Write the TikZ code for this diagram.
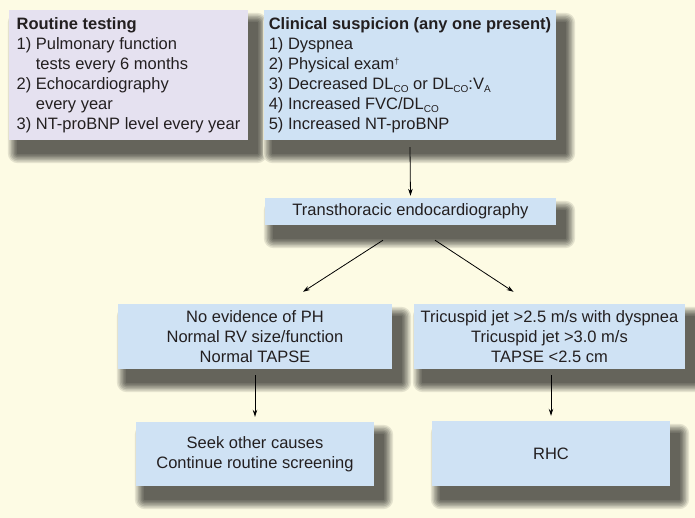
\documentclass[tikz,border=0pt]{standalone}
\usepackage{fontspec}
\setmainfont{Liberation Sans}
\usetikzlibrary{arrows.meta}
\definecolor{creambg}{RGB}{253,251,228}
\definecolor{boxblue}{RGB}{207,226,244}
\definecolor{boxlav}{RGB}{229,225,240}
\definecolor{txt}{RGB}{35,31,32}
\pagecolor{creambg}
\pgfdeclarelayer{bgl}
\pgfdeclarelayer{shl}
\pgfsetlayers{bgl,shl,main}
\newcommand\mysub[1]{\raisebox{-3.5pt}{\fontsize{10}{10}\selectfont #1}}
\newcommand\mydag{\raisebox{5pt}{\fontsize{9}{9}\selectfont\textdagger}}
\tikzset{
  box/.style={fill=boxblue, draw=none, inner sep=0pt, text=txt,
    font=\fontsize{16.5}{20}\selectfont},
  arr/.style={-{Stealth[length=7pt,width=4.5pt]}, line width=0.8pt, black},
}
\begin{document}
\begin{tikzpicture}[x=1pt,y=-1pt]
\useasboundingbox (0,0) rectangle (695,518);
\begin{pgfonlayer}{bgl}
\fill[creambg] (0,0) rectangle (695,518);
\end{pgfonlayer}

\node[box, fill=boxlav, align=left, minimum width=239pt, minimum height=130pt] (routine) at (128.5,75)
  {\textbf{Routine testing}\\
   1) Pulmonary function\\
   \hphantom{1) }tests every 6 months\\
   2) Echocardiography\\
   \hphantom{2) }every year\\
   3) NT-proBNP level every year};

\node[box, align=left, minimum width=292pt, minimum height=130pt] (clin) at (410,75)
  {\textbf{Clinical suspicion (any one present)}\\
   1) Dyspnea\\
   2) Physical exam\mydag\\
   3) Decreased DL\mysub{CO} or DL\mysub{CO}:V\mysub{A}\\
   4) Increased FVC/DL\mysub{CO}\\
   5) Increased NT-proBNP};

\node[box, minimum width=291pt, minimum height=27pt] (tte) at (410.5,211.5)
  {Transthoracic endocardiography};

\node[box, align=center, minimum width=274pt, minimum height=65pt] (noph) at (255,336.5)
  {No evidence of PH\\ Normal RV size/function\\ Normal TAPSE};

\node[box, align=center, minimum width=271pt, minimum height=65pt] (tric) at (549.5,336.5)
  {Tricuspid jet >2.5 m/s with dyspnea\\ Tricuspid jet >3.0 m/s\\ TAPSE <2.5 cm};

\node[box, align=center, minimum width=238pt, minimum height=64pt] (seek) at (255,454)
  {Seek other causes\\ Continue routine screening};

\node[box, minimum width=238pt, minimum height=65pt] (rhc) at (551,453.5)
  {RHC};

\begin{pgfonlayer}{shl}
\foreach \n in {routine,clin,tte,noph,tric,seek,rhc}{
  \foreach \r/\p in {10/90,8.5/80,7/70,5.5/61,4/53,2.5/46,1/40}{
    \fill[creambg!\p!black, rounded corners=\r pt]
      ([xshift={(9-\r)*1pt}, yshift={(-13+\r)*1pt}]\n.north west) rectangle
      ([xshift={(9+\r)*1pt}, yshift={(-13-\r)*1pt}]\n.south east);
  }
}
\end{pgfonlayer}

\draw[arr, shorten >=2pt] ([yshift=-7pt]clin.south) -- (tte.north);
\draw[arr] ([xshift=-27.5pt,yshift=-15pt]tte.south) -- ([xshift=48pt,yshift=12pt]noph.north);
\draw[arr] ([xshift=24.5pt,yshift=-15pt]tte.south) -- ([xshift=-36pt,yshift=12pt]tric.north);
\draw[arr, shorten >=5pt] ([yshift=-6pt]noph.south) -- (seek.north);
\draw[arr, shorten >=5pt] ([yshift=-6pt]rhc.north |- tric.south) -- (rhc.north);
\end{tikzpicture}
\end{document}
